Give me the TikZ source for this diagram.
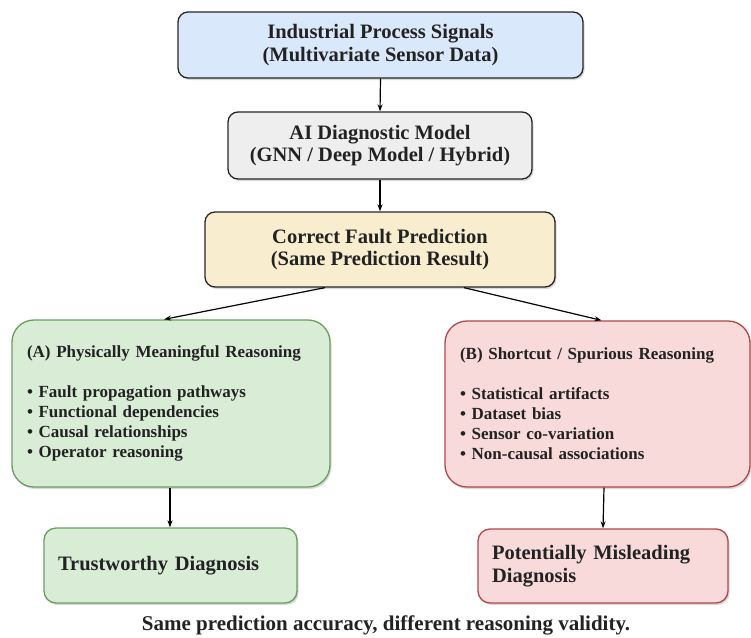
\documentclass[tikz,border=0pt]{standalone}
\usepackage{fontspec}
\setmainfont{Liberation Serif}
\usetikzlibrary{arrows.meta,shadows}
\definecolor{blueF}{HTML}{DAE8FC}
\definecolor{grayF}{HTML}{EEEEEE}
\definecolor{yelF}{HTML}{F8EDCF}
\definecolor{greF}{HTML}{D8ECD6}
\definecolor{greD}{HTML}{6A9E5A}
\definecolor{redF}{HTML}{F8DADA}
\definecolor{redD}{HTML}{B0474A}
\definecolor{txt}{HTML}{222222}
\tikzset{
  shad/.style={drop shadow={opacity=0.3, shadow xshift=1.5pt, shadow yshift=-2pt}},
  box/.style={draw=black!85, line width=1.3pt, rounded corners=10pt, align=center,
    font=\fontsize{20.5}{22.5}\selectfont\bfseries, text=txt, inner sep=0pt, shad},
  bigbox/.style={line width=1.3pt, rounded corners=22pt, align=left,
    font=\fontsize{17}{20}\selectfont\bfseries, text=txt, inner xsep=15pt, inner ysep=0pt, shad},
  endbox/.style={line width=1.3pt, rounded corners=12pt, align=left,
    font=\fontsize{20.5}{23}\selectfont\bfseries, text=txt, inner xsep=14pt, inner ysep=0pt, shad},
  arr/.style={-{Stealth[length=7pt,width=5pt]}, line width=1.2pt, black}
}
\begin{document}
\begin{tikzpicture}[x=1pt,y=-1pt]
\useasboundingbox (0,0) rectangle (751,637);
\node[box, fill=blueF, minimum width=405pt, minimum height=66pt] (sig) at (380.5,45)
  {Industrial Process Signals\\(Multivariate Sensor Data)};
\node[box, fill=grayF, minimum width=304pt, minimum height=67pt] (mod) at (380,145.5)
  {AI Diagnostic Model\\(GNN / Deep Model / Hybrid)};
\node[box, fill=yelF, minimum width=350pt, minimum height=75pt] (pred) at (380,249.5)
  {Correct Fault Prediction\\(Same Prediction Result)};
\node[bigbox, draw=greD, fill=greF, minimum height=167pt,
  text width=288pt] (ra) at (171,403.5)
  {(A) Physically Meaningful Reasoning\\[20pt]
   • Fault propagation pathways\\
   • Functional dependencies\\
   • Causal relationships\\
   • Operator reasoning};
\node[bigbox, draw=redD, fill=redF, minimum height=166pt,
  text width=275pt] (rb) at (597.5,404)
  {(B) Shortcut / Spurious Reasoning\\[20pt]
   • Statistical artifacts\\
   • Dataset bias\\
   • Sensor co-variation\\
   • Non-causal associations};
\node[endbox, draw=greD, fill=greF, minimum height=75pt,
  text width=225pt] (td) at (170.5,565.5)
  {Trustworthy Diagnosis};
\node[endbox, draw=redD, fill=redF, minimum height=74pt,
  text width=222pt] (pm) at (603,566)
  {Potentially Misleading\\Diagnosis};
\node[font=\fontsize{21}{24}\selectfont\bfseries, text=txt, anchor=base] (cap) at (386,630.5)
  {Same prediction accuracy, different reasoning validity.};
\draw[arr] (sig.south) -- (mod.north);
\draw[arr] (mod.south) -- (pred.north);
\draw[arr] ([xshift=-55pt]pred.south) -- ([xshift=-7pt]ra.north);
\draw[arr] ([xshift=84pt]pred.south) -- ([xshift=4pt]rb.north);
\draw[arr] ([xshift=-1pt]ra.south) -- ([xshift=-0.5pt]td.north);
\draw[arr] ([xshift=6.5pt]rb.south) -- ([xshift=0pt]pm.north);
\end{tikzpicture}
\end{document}
